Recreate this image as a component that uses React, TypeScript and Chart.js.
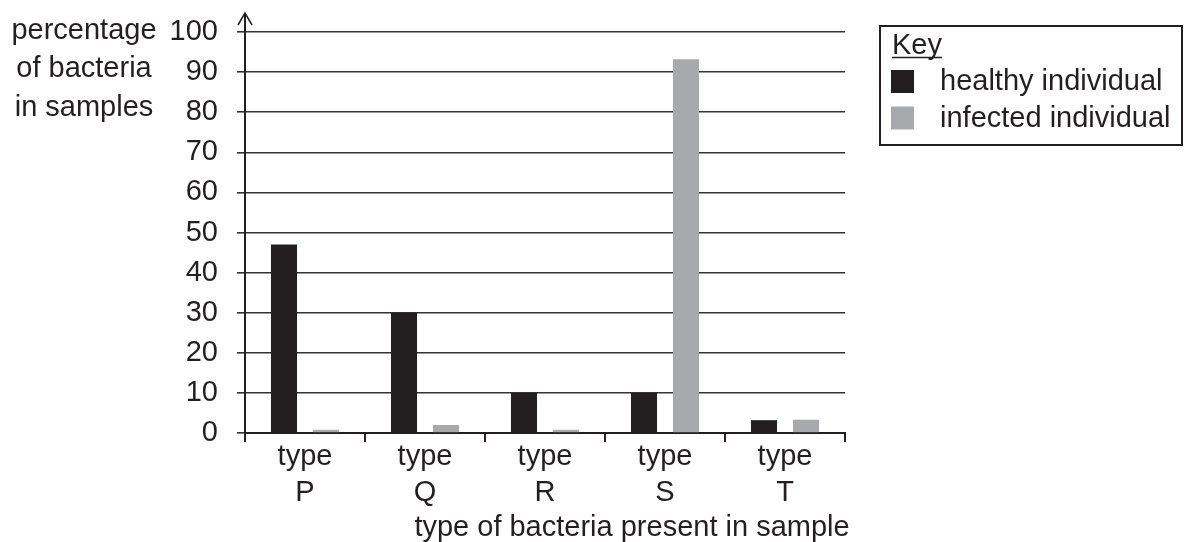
import React, { useEffect, useRef } from "react";
import { Chart, registerables } from "chart.js";

Chart.register(...registerables);

// ---- data ----
const categories: string[][] = [
  ["type", "P"],
  ["type", "Q"],
  ["type", "R"],
  ["type", "S"],
  ["type", "T"],
];
const healthyValues = [47, 30, 10, 10, 3.2];
const infectedValues = [0.8, 2, 0.8, 93.2, 3.3];
const seriesNames = ["healthy individual", "infected individual"];
const yTitleLines = ["percentage", "of bacteria", "in samples"];
const xTitle = "type of bacteria present in sample";
const keyTitle = "Key";
const yMin = 0;
const yMax = 100;
const yStep = 10;

// ---- styles ----
const INK = "#231f20";
const GRID = "#333333";
const BLACK_BAR = "#231f20";
const GREY_BAR = "#a7a9ac";
const FONT = "'Liberation Sans', Arial, Helvetica, sans-serif";
const FS = 29;

const decoPlugin = {
  id: "deco",
  afterDraw(chart: any) {
    const ctx: CanvasRenderingContext2D = chart.ctx;
    const { left, top } = chart.chartArea;
    ctx.save();

    // y-axis arrow
    ctx.strokeStyle = INK;
    ctx.lineWidth = 2;
    ctx.beginPath();
    ctx.moveTo(left, top);
    ctx.lineTo(left, 13);
    ctx.stroke();
    ctx.lineWidth = 1.5;
    ctx.beginPath();
    ctx.moveTo(left - 7, 25);
    ctx.lineTo(left, 13);
    ctx.lineTo(left + 7, 25);
    ctx.stroke();

    // y title (horizontal, three lines)
    ctx.fillStyle = INK;
    ctx.font = `${FS}px ${FONT}`;
    ctx.textAlign = "center";
    ctx.textBaseline = "alphabetic";
    const yBase = [39, 77, 115.5];
    yTitleLines.forEach((t, i) => ctx.fillText(t, 84, yBase[i]));

    // x title
    ctx.fillText(xTitle, 632, 536);

    // key box
    const bx = 880, by = 26, bw = 302, bh = 119;
    ctx.lineWidth = 2;
    ctx.strokeStyle = INK;
    ctx.strokeRect(bx, by, bw, bh);

    ctx.textAlign = "left";
    ctx.fillText(keyTitle, 892, 54);
    const kw = ctx.measureText(keyTitle).width;
    ctx.lineWidth = 1.5;
    ctx.beginPath();
    ctx.moveTo(892, 57.5);
    ctx.lineTo(892 + kw, 57.5);
    ctx.stroke();

    const ds = chart.data.datasets;
    const rowsY = [81.5, 118];
    ds.forEach((d: any, i: number) => {
      ctx.fillStyle = d.backgroundColor;
      ctx.fillRect(891, rowsY[i] - 11.5, 23, 23);
      ctx.fillStyle = INK;
      ctx.textBaseline = "middle";
      ctx.fillText(d.label, 940, rowsY[i] + 0.5);
    });

    ctx.restore();
  },
};

export default function App() {
  const ref = useRef<HTMLCanvasElement | null>(null);

  useEffect(() => {
    if (!ref.current) return;
    const chart = new Chart(ref.current, {
      type: "bar",
      data: {
        labels: categories,
        datasets: [
          {
            label: seriesNames[0],
            data: healthyValues,
            backgroundColor: BLACK_BAR,
            categoryPercentage: 0.7,
            barPercentage: 0.62,
          },
          {
            label: seriesNames[1],
            data: infectedValues,
            backgroundColor: GREY_BAR,
            categoryPercentage: 0.7,
            barPercentage: 0.62,
          },
        ],
      },
      options: {
        responsive: false,
        devicePixelRatio: 1,
        animation: false,
        layout: { padding: { left: 0, top: 32, right: 339, bottom: 0 } },
        plugins: {
          legend: { display: false },
          tooltip: { enabled: false },
          title: { display: false },
        },
        scales: {
          x: {
            offset: true,
            grid: {
              display: true,
              offset: true,
              drawOnChartArea: false,
              drawTicks: true,
              tickLength: 9,
              color: INK,
              lineWidth: 2,
            },
            border: { display: true, color: INK, width: 2 },
            ticks: {
              color: INK,
              font: { family: FONT, size: FS, lineHeight: 1.24 },
              padding: -3,
              maxRotation: 0,
              autoSkip: false,
            },
            afterFit: (s: any) => {
              s.height = 109;
            },
          },
          y: {
            min: yMin,
            max: yMax,
            grid: {
              display: true,
              drawOnChartArea: true,
              drawTicks: true,
              tickLength: 8,
              color: GRID,
              lineWidth: 1.6,
            },
            border: { display: true, color: INK, width: 2 },
            ticks: {
              stepSize: yStep,
              color: INK,
              font: { family: FONT, size: FS, lineHeight: 0.8 },
              padding: 19,
            },
            afterFit: (s: any) => {
              s.width = 245;
            },
          },
        },
      },
      plugins: [decoPlugin],
    });
    return () => chart.destroy();
  }, []);

  return (
    <div style={{ position: "absolute", left: 0, top: 0, width: 1184, height: 542, background: "#fff" }}>
      <canvas ref={ref} width={1184} height={542} style={{ display: "block" }} />
    </div>
  );
}
